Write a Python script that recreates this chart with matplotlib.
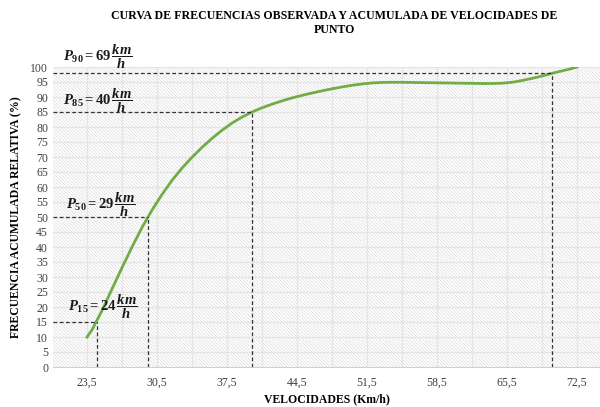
import numpy as np
import matplotlib
matplotlib.use('Agg')
import matplotlib.pyplot as plt
from matplotlib.patches import Rectangle

plt.rcParams['font.family'] = 'Liberation Serif'
plt.rcParams['mathtext.fontset'] = 'custom'
plt.rcParams['mathtext.rm'] = 'Liberation Serif:bold'
plt.rcParams['mathtext.it'] = 'Liberation Serif:bold:italic'
plt.rcParams['mathtext.bf'] = 'Liberation Serif:bold'
plt.rcParams['hatch.linewidth'] = 0.5

# curve (velocidad, frecuencia acumulada %)
vel = [23.5, 24, 25, 26, 27, 28, 29, 30, 31, 32, 33, 34, 35, 36, 37, 38, 39, 40,
       41, 42, 43, 44, 45, 46, 47, 48, 49, 50, 51, 52, 53, 54, 55, 56, 57, 58,
       59, 60, 61, 62, 63, 64, 65, 66, 67, 68, 69, 70, 71, 72, 72.5]
frec = [10, 12.4, 18.8, 26.0, 33.1, 40.0, 46.5, 52.3, 57.5, 62.2, 66.3, 69.9,
        73.2, 76.2, 78.9, 81.3, 83.3, 85.0, 86.4, 87.6, 88.7, 89.7, 90.55, 91.33,
        92.05, 92.73, 93.35, 93.9, 94.35, 94.68, 94.86, 94.91, 94.9, 94.85, 94.8,
        94.75, 94.7, 94.65, 94.6, 94.55, 94.5, 94.5, 94.6, 94.9, 95.5, 96.2, 97.0,
        97.9, 98.7, 99.5, 100]

# percentiles
perc_x = [24.5, 29.6, 40.0, 70.0]
perc_y = [15, 50, 85, 97.9]
perc_lab = [r'$P_{15} = 24\,\dfrac{km}{h}$', r'$P_{50} = 29\,\dfrac{km}{h}$',
            r'$P_{85} = 40\,\dfrac{km}{h}$', r'$P_{90} = 69\,\dfrac{km}{h}$']
lab_x = [21.6, 21.4, 21.1, 21.1]
lab_y = [20, 54, 88.7, 103.3]

xticks = [23.5, 30.5, 37.5, 44.5, 51.5, 58.5, 65.5, 72.5]
xlabels = ['23,5', '30,5', '37,5', '44,5', '51,5', '58,5', '65,5', '72,5']

fig = plt.figure(figsize=(6, 4.07), dpi=100)
ax = fig.add_axes([53/600, 40/407, 547/600, 300/407])
xmin, xmax = 20.1, 74.8
ax.set_xlim(xmin, xmax)
ax.set_ylim(0, 100)

# hatched background
ax.add_patch(Rectangle((0, 0), 1, 1, transform=ax.transAxes, facecolor='white',
                       edgecolor='#dcdcdc', hatch='\\' * 10, linewidth=0, zorder=0))

for gx in np.arange(20.0, 76, 3.5):
    if gx > xmin:
        ax.axvline(gx, color='#e4e4e4', lw=0.9, zorder=1)
for gy in range(5, 101, 5):
    ax.axhline(gy, color='#e4e4e4', lw=0.9, zorder=1)

ax.plot(vel, frec, color='#70AD47', lw=2, zorder=3, solid_joinstyle='round')

for px, py, lab, lx, ly in zip(perc_x, perc_y, perc_lab, lab_x, lab_y):
    ax.plot([xmin, px], [py, py], color='#333333', lw=0.9, ls=(0, (3, 2)), zorder=4)
    ax.plot([px, px], [0, py], color='#333333', lw=0.9, ls=(0, (3, 2)), zorder=4)
    ax.text(lx, ly, lab, fontsize=10.5, ha='left', va='center', color='#1a1a1a',
            zorder=5, clip_on=False)

ax.set_xticks(xticks)
ax.set_xticklabels(xlabels)
ax.set_yticks(range(0, 101, 5))
ax.tick_params(length=0, labelsize=8.5, labelcolor='#404040')
ax.tick_params(axis='x', pad=7)
for s in ['top', 'right', 'left']:
    ax.spines[s].set_visible(False)
ax.spines['bottom'].set_color('#d0d0d0')

ax.set_xlabel('VELOCIDADES (Km/h)', fontsize=8.5, fontweight='bold', labelpad=3)
ax.set_ylabel('FRECUENCIA ACUMULADA RELATIVA (%)', fontsize=8.5, fontweight='bold', labelpad=6)
fig.text(0.557, 0.975, 'CURVA DE FRECUENCIAS OBSERVADA Y ACUMULADA DE VELOCIDADES DE\nPUNTO',
         ha='center', va='top', fontsize=8.6, fontweight='bold', linespacing=1.25)

fig.savefig('out.png', dpi=100)
